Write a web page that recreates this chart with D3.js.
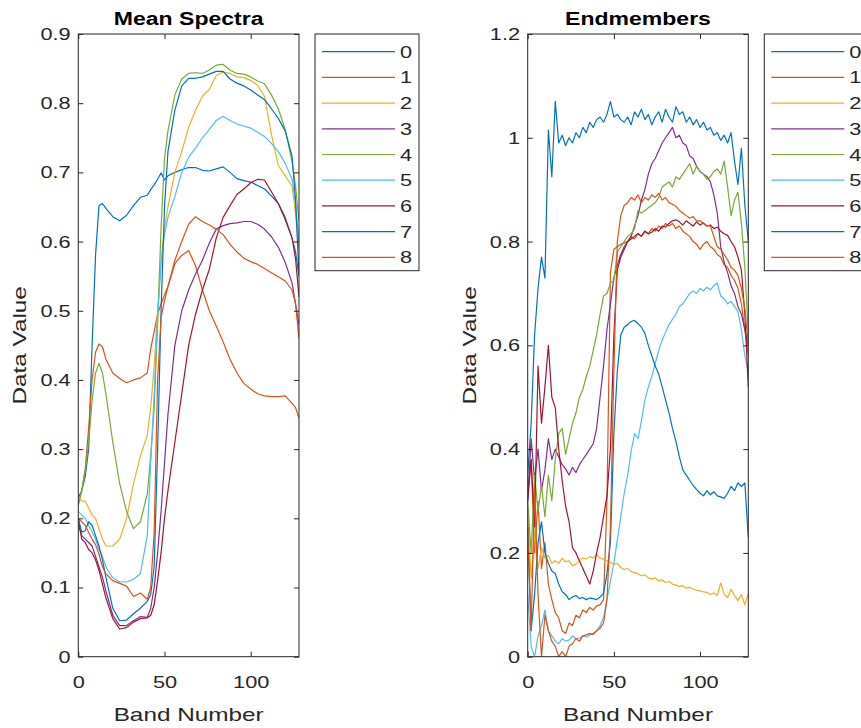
<!DOCTYPE html>
<html>
<head>
<meta charset="utf-8">
<script src="https://cdn.jsdelivr.net/npm/d3@7"></script>
<style>
  body { margin: 0; background: #fff; }
  svg { display: block; font-family: "Liberation Sans", Arial, sans-serif; }
</style>
</head>
<body>
<div id="chart"></div>
<script>
// Series names and MATLAB default colours.
const seriesNames = ['0', '1', '2', '3', '4', '5', '6', '7', '8'];
const seriesColors = ['#0072BD', '#D95319', '#EDB120', '#7E2F8E', '#77AC30', '#4DBEEE', '#A2142F', '#0072BD', '#D95319'];

// Mean spectra: band positions and one array per class.
const meanBands = [0, 2, 4, 6, 8, 10, 12, 14, 16, 20, 24, 28, 32, 36, 40, 42, 44, 46, 48, 50, 52,
    56, 60, 64, 68, 72, 76, 80, 84, 88, 92, 96, 100, 104, 108, 112, 116, 120, 124, 126, 128];
const mean0 = [0.23, 0.24, 0.26, 0.30, 0.45, 0.58, 0.652, 0.655, 0.648, 0.636, 0.630, 0.638, 0.652, 0.664, 0.667, 0.675, 0.682, 0.690, 0.699, 0.689, 0.695,
    0.700, 0.704, 0.707, 0.707, 0.703, 0.702, 0.705, 0.708, 0.700, 0.691, 0.688, 0.686, 0.681, 0.676, 0.666, 0.655, 0.635, 0.605, 0.585, 0.55];
const mean1 = [0.22, 0.24, 0.27, 0.33, 0.40, 0.44, 0.452, 0.448, 0.43, 0.41, 0.402, 0.396, 0.40, 0.403, 0.41, 0.445, 0.47, 0.495, 0.51, 0.523, 0.535,
    0.568, 0.58, 0.587, 0.565, 0.53, 0.50, 0.478, 0.455, 0.43, 0.41, 0.395, 0.387, 0.38, 0.377, 0.376, 0.376, 0.377, 0.366, 0.36, 0.345];
const mean2 = [0.23, 0.225, 0.225, 0.215, 0.205, 0.20, 0.185, 0.17, 0.16, 0.16, 0.17, 0.20, 0.25, 0.29, 0.32, 0.36, 0.42, 0.50, 0.57, 0.62, 0.65,
    0.70, 0.73, 0.765, 0.79, 0.81, 0.82, 0.84, 0.845, 0.843, 0.838, 0.837, 0.833, 0.826, 0.81, 0.755, 0.71, 0.695, 0.68, 0.64, 0.59];
const mean3 = [0.19, 0.175, 0.17, 0.165, 0.16, 0.145, 0.13, 0.115, 0.095, 0.06, 0.045, 0.045, 0.052, 0.058, 0.057, 0.07, 0.10, 0.15, 0.21, 0.28, 0.35,
    0.45, 0.50, 0.53, 0.553, 0.573, 0.598, 0.618, 0.623, 0.626, 0.627, 0.629, 0.629, 0.625, 0.618, 0.607, 0.592, 0.57, 0.54, 0.51, 0.48];
const mean4 = [0.22, 0.24, 0.27, 0.31, 0.37, 0.41, 0.424, 0.41, 0.38, 0.31, 0.25, 0.21, 0.185, 0.195, 0.235, 0.29, 0.36, 0.48, 0.62, 0.72, 0.76,
    0.812, 0.835, 0.843, 0.844, 0.843, 0.848, 0.855, 0.856, 0.848, 0.843, 0.842, 0.838, 0.832, 0.828, 0.812, 0.792, 0.762, 0.715, 0.68, 0.63];
const mean5 = [0.21, 0.205, 0.20, 0.19, 0.18, 0.17, 0.155, 0.145, 0.13, 0.114, 0.108, 0.108, 0.112, 0.12, 0.175, 0.28, 0.38, 0.49, 0.57, 0.61, 0.635,
    0.665, 0.70, 0.722, 0.735, 0.75, 0.762, 0.775, 0.781, 0.775, 0.77, 0.767, 0.764, 0.758, 0.752, 0.742, 0.73, 0.713, 0.69, 0.655, 0.60];
const mean6 = [0.20, 0.17, 0.165, 0.155, 0.15, 0.14, 0.125, 0.105, 0.085, 0.055, 0.04, 0.042, 0.05, 0.055, 0.056, 0.06, 0.075, 0.11, 0.15, 0.20, 0.24,
    0.31, 0.38, 0.45, 0.495, 0.53, 0.56, 0.605, 0.635, 0.652, 0.668, 0.676, 0.685, 0.69, 0.689, 0.672, 0.655, 0.632, 0.605, 0.575, 0.52];
const mean7 = [0.20, 0.18, 0.182, 0.195, 0.19, 0.175, 0.16, 0.14, 0.115, 0.07, 0.052, 0.053, 0.062, 0.07, 0.08, 0.09, 0.13, 0.30, 0.50, 0.65, 0.73,
    0.79, 0.825, 0.836, 0.836, 0.838, 0.842, 0.846, 0.846, 0.835, 0.829, 0.825, 0.819, 0.812, 0.805, 0.792, 0.778, 0.76, 0.723, 0.66, 0.55];
const mean8 = [0.20, 0.195, 0.19, 0.18, 0.17, 0.162, 0.148, 0.13, 0.12, 0.11, 0.106, 0.102, 0.087, 0.092, 0.083, 0.10, 0.18, 0.40, 0.49, 0.515, 0.535,
    0.573, 0.60, 0.625, 0.636, 0.629, 0.624, 0.618, 0.61, 0.596, 0.585, 0.576, 0.571, 0.567, 0.561, 0.555, 0.549, 0.543, 0.53, 0.51, 0.46];

// Endmembers: every second band, 0..128.
const endBands = d3.range(0, 129, 2);
const end0 = [0.35, 0.45, 0.62, 0.71, 0.77, 0.73, 1.015, 0.925, 1.07, 0.99, 1.005, 0.985, 1.0, 0.99, 1.01, 1.0, 1.02, 1.01, 1.03, 1.02, 1.035, 1.04, 1.03,
    1.045, 1.07, 1.04, 1.045, 1.035, 1.03, 1.04, 1.025, 1.05, 1.04, 1.055, 1.035, 1.045, 1.025, 1.04, 1.05, 1.03, 1.055, 1.04, 1.03, 1.06, 1.045,
    1.05, 1.03, 1.04, 1.025, 1.035, 1.02, 1.03, 1.015, 1.02, 1.005, 1.01, 0.995, 1.005, 0.99, 1.01, 0.955, 0.91, 0.98, 0.87, 0.80];
const end1 = [0.32, 0.38, 0.20, 0.30, 0.17, 0.22, 0.14, 0.11, 0.085, 0.075, 0.05, 0.045, 0.065, 0.06, 0.08, 0.075, 0.09, 0.085, 0.095, 0.09, 0.098, 0.10, 0.11,
    0.30, 0.74, 0.785, 0.79, 0.795, 0.797, 0.80, 0.81, 0.805, 0.816, 0.81, 0.82, 0.815, 0.825, 0.82, 0.83, 0.825, 0.835, 0.83, 0.835, 0.825, 0.83,
    0.82, 0.815, 0.81, 0.80, 0.795, 0.785, 0.795, 0.80, 0.79, 0.785, 0.775, 0.77, 0.755, 0.75, 0.735, 0.725, 0.71, 0.68, 0.63, 0.58];
const end2 = [0.28, 0.15, 0.24, 0.17, 0.21, 0.19, 0.195, 0.18, 0.185, 0.18, 0.19, 0.183, 0.185, 0.175, 0.178, 0.185, 0.19, 0.188, 0.193, 0.19, 0.197, 0.19, 0.188,
    0.185, 0.182, 0.178, 0.18, 0.172, 0.168, 0.17, 0.164, 0.162, 0.16, 0.156, 0.158, 0.152, 0.15, 0.152, 0.146, 0.148, 0.143, 0.145, 0.14, 0.138, 0.135,
    0.137, 0.132, 0.134, 0.13, 0.128, 0.127, 0.125, 0.124, 0.12, 0.123, 0.118, 0.142, 0.12, 0.114, 0.13, 0.118, 0.108, 0.12, 0.10, 0.122];
const end3 = [0.30, 0.42, 0.34, 0.40, 0.32, 0.36, 0.42, 0.38, 0.40, 0.385, 0.37, 0.362, 0.35, 0.365, 0.355, 0.37, 0.38, 0.39, 0.40, 0.41, 0.44, 0.50, 0.56,
    0.63, 0.68, 0.73, 0.755, 0.775, 0.79, 0.80, 0.81, 0.83, 0.85, 0.88, 0.90, 0.93, 0.95, 0.96, 0.975, 0.99, 1.0, 1.01, 1.02, 1.0, 1.005,
    0.99, 0.985, 0.965, 0.96, 0.945, 0.935, 0.93, 0.925, 0.915, 0.89, 0.855, 0.79, 0.76, 0.74, 0.715, 0.70, 0.675, 0.66, 0.63, 0.60];
const end4 = [0.30, 0.20, 0.35, 0.28, 0.33, 0.27, 0.35, 0.30, 0.38, 0.43, 0.44, 0.39, 0.42, 0.45, 0.47, 0.50, 0.515, 0.54, 0.56, 0.59, 0.62, 0.66, 0.695,
    0.70, 0.72, 0.725, 0.78, 0.79, 0.80, 0.81, 0.815, 0.825, 0.86, 0.855, 0.86, 0.865, 0.87, 0.875, 0.885, 0.905, 0.91, 0.915, 0.905, 0.925, 0.92,
    0.93, 0.94, 0.95, 0.93, 0.945, 0.935, 0.93, 0.92, 0.925, 0.935, 0.94, 0.93, 0.955, 0.905, 0.85, 0.88, 0.895, 0.835, 0.75, 0.62];
const end5 = [0.12, 0.02, 0.0, 0.04, 0.06, 0.09, 0.05, 0.04, 0.03, 0.025, 0.035, 0.03, 0.032, 0.04, 0.035, 0.036, 0.04, 0.038, 0.042, 0.045, 0.05, 0.06, 0.075,
    0.11, 0.145, 0.18, 0.225, 0.27, 0.315, 0.35, 0.395, 0.43, 0.42, 0.455, 0.495, 0.52, 0.54, 0.565, 0.59, 0.61, 0.625, 0.64, 0.65, 0.66, 0.675,
    0.68, 0.69, 0.70, 0.705, 0.70, 0.71, 0.705, 0.712, 0.707, 0.715, 0.72, 0.695, 0.69, 0.68, 0.685, 0.675, 0.665, 0.63, 0.58, 0.55];
const end6 = [0.30, 0.38, 0.25, 0.56, 0.45, 0.52, 0.60, 0.50, 0.48, 0.40, 0.34, 0.29, 0.26, 0.21, 0.20, 0.185, 0.17, 0.155, 0.14, 0.165, 0.20, 0.23, 0.27,
    0.31, 0.40, 0.62, 0.745, 0.77, 0.785, 0.80, 0.805, 0.81, 0.815, 0.81, 0.82, 0.815, 0.818, 0.825, 0.82, 0.83, 0.828, 0.835, 0.84, 0.842, 0.838,
    0.832, 0.84, 0.835, 0.83, 0.838, 0.832, 0.836, 0.83, 0.832, 0.825, 0.828, 0.82, 0.815, 0.812, 0.80, 0.79, 0.77, 0.745, 0.66, 0.52];
const end7 = [0.25, 0.05, 0.12, 0.22, 0.26, 0.20, 0.18, 0.165, 0.16, 0.14, 0.125, 0.12, 0.11, 0.115, 0.118, 0.112, 0.114, 0.11, 0.113, 0.112, 0.11, 0.115, 0.122,
    0.16, 0.22, 0.43, 0.55, 0.62, 0.635, 0.64, 0.646, 0.648, 0.642, 0.635, 0.623, 0.60, 0.58, 0.56, 0.545, 0.52, 0.495, 0.47, 0.44, 0.415, 0.385,
    0.36, 0.35, 0.34, 0.33, 0.322, 0.315, 0.31, 0.32, 0.312, 0.318, 0.31, 0.308, 0.305, 0.315, 0.328, 0.32, 0.335, 0.328, 0.335, 0.23];
const end8 = [0.25, 0.05, 0.33, 0.12, 0.0, 0.08, 0.05, 0.03, 0.02, 0.0, 0.01, 0.0, 0.02, 0.025, 0.035, 0.03, 0.04, 0.042, 0.045, 0.043, 0.05, 0.055, 0.065,
    0.11, 0.25, 0.55, 0.80, 0.85, 0.87, 0.875, 0.885, 0.88, 0.89, 0.875, 0.885, 0.88, 0.89, 0.885, 0.893, 0.88, 0.885, 0.875, 0.872, 0.868, 0.86,
    0.855, 0.85, 0.845, 0.848, 0.84, 0.84, 0.835, 0.83, 0.83, 0.81, 0.79, 0.785, 0.775, 0.765, 0.75, 0.745, 0.735, 0.71, 0.67, 0.60];

const meanTicksY = [0, 0.1, 0.2, 0.3, 0.4, 0.5, 0.6, 0.7, 0.8, 0.9];
const endTicksY = [0, 0.2, 0.4, 0.6, 0.8, 1, 1.2];
const ticksX = [0, 50, 100];

const width = 861;
const height = 728;
const axisColor = '#262626';
// The reference text is drawn wider than Liberation Sans, so stretch it.
const stretch = 1.28;

const svg = d3.select('#chart')
    .append('svg')
        .attr('width', width)
        .attr('height', height);

// Place a stretched text with its anchor at (x, y).
function addText(parent, x, y, txt, size, opts = {}) {
    return parent.append('text')
        .attr('transform', `translate(${x},${y})${opts.rotate ? ' rotate(-90)' : ''} scale(${stretch},1)`)
        .attr('text-anchor', opts.anchor || 'middle')
        .style('font-size', `${size}px`)
        .style('font-weight', opts.bold ? 'bold' : 'normal')
        .attr('fill', opts.fill || axisColor)
        .text(txt);
}

// Draw one MATLAB style axes with its legend.
function drawPanel(opts) {
    const x = d3.scaleLinear().domain([0, 128]).range([opts.left, opts.right]);
    const y = d3.scaleLinear().domain([0, opts.yMax]).range([opts.bottom, opts.top]);
    const g = svg.append('g');

    g.append('clipPath')
        .attr('id', opts.id)
        .append('rect')
            .attr('x', opts.left)
            .attr('y', opts.top)
            .attr('width', opts.right - opts.left)
            .attr('height', opts.bottom - opts.top);

    // Lines.
    const line = d3.line()
        .x((d, i) => x(opts.bands[i]))
        .y(d => y(d));
    g.append('g')
        .attr('clip-path', `url(#${opts.id})`)
        .selectAll('path')
        .data(opts.series)
        .enter()
        .append('path')
            .attr('d', d => line(d))
            .attr('fill', 'none')
            .attr('stroke', (d, i) => seriesColors[i])
            .attr('stroke-width', 1.2)
            .attr('stroke-linejoin', 'round');

    // Axes: ticks inside, on all four sides.
    const tick = -5;
    const styleAxis = sel => {
        sel.select('.domain').remove();
        sel.selectAll('line').attr('stroke', axisColor);
        sel.selectAll('text').attr('fill', axisColor).style('font-size', '17px');
    };
    g.append('g')
        .attr('transform', `translate(0,${opts.bottom})`)
        .call(d3.axisBottom(x).tickValues(ticksX).tickSize(tick))
        .call(styleAxis)
        .selectAll('text')
            .attr('y', null)
            .attr('dy', null)
            .attr('transform', `translate(0,31.5) scale(${stretch},1)`);
    g.append('g')
        .attr('transform', `translate(0,${opts.top})`)
        .call(d3.axisTop(x).tickValues(ticksX).tickSize(tick).tickFormat(''))
        .call(styleAxis);
    g.append('g')
        .attr('transform', `translate(${opts.left},0)`)
        .call(d3.axisLeft(y).tickValues(opts.ticksY).tickSize(tick).tickFormat(d3.format('')))
        .call(styleAxis)
        .selectAll('text')
            .attr('x', null)
            .attr('transform', `translate(-7.6,0) scale(${stretch},1)`);
    g.append('g')
        .attr('transform', `translate(${opts.right},0)`)
        .call(d3.axisRight(y).tickValues(opts.ticksY).tickSize(tick).tickFormat(''))
        .call(styleAxis);

    g.append('rect')
        .attr('x', opts.left)
        .attr('y', opts.top)
        .attr('width', opts.right - opts.left)
        .attr('height', opts.bottom - opts.top)
        .attr('fill', 'none')
        .attr('stroke', axisColor)
        .attr('stroke-width', 1);

    // Title and axis labels.
    const cx = (opts.left + opts.right) / 2;
    addText(g, cx, 25, opts.title, 18, {bold: true, fill: '#000'});
    addText(g, cx, 721, 'Band Number', 19);
    addText(g, opts.left - 52, (opts.top + opts.bottom) / 2, 'Data Value', 19, {rotate: true});

    // Legend.
    const lg = g.append('g');
    lg.append('rect')
        .attr('x', opts.legendX)
        .attr('y', 34)
        .attr('width', 104)
        .attr('height', 236.7)
        .attr('fill', '#fff')
        .attr('stroke', axisColor)
        .attr('stroke-width', 1);
    const items = lg.selectAll('g.item')
        .data(seriesNames)
        .enter()
        .append('g')
            .attr('class', 'item')
            .attr('transform', (d, i) => `translate(${opts.legendX},${51.7 + i * 25.7})`);
    items.append('line')
        .attr('x1', 7)
        .attr('x2', 80)
        .attr('stroke', (d, i) => seriesColors[i])
        .attr('stroke-width', 1.2);
    items.each(function(d) {
        addText(d3.select(this), 85, 6, d, 17, {anchor: 'start'});
    });
}

drawPanel({
    id: 'clipMean', title: 'Mean Spectra',
    left: 78.3, right: 299, top: 34, bottom: 656.7,
    yMax: 0.9, ticksY: meanTicksY, legendX: 315,
    bands: meanBands,
    series: [mean0, mean1, mean2, mean3, mean4, mean5, mean6, mean7, mean8]
});

drawPanel({
    id: 'clipEnd', title: 'Endmembers',
    left: 527.7, right: 748.3, top: 34, bottom: 656.7,
    yMax: 1.2, ticksY: endTicksY, legendX: 764.3,
    bands: endBands,
    series: [end0, end1, end2, end3, end4, end5, end6, end7, end8]
});
</script>
</body>
</html>
